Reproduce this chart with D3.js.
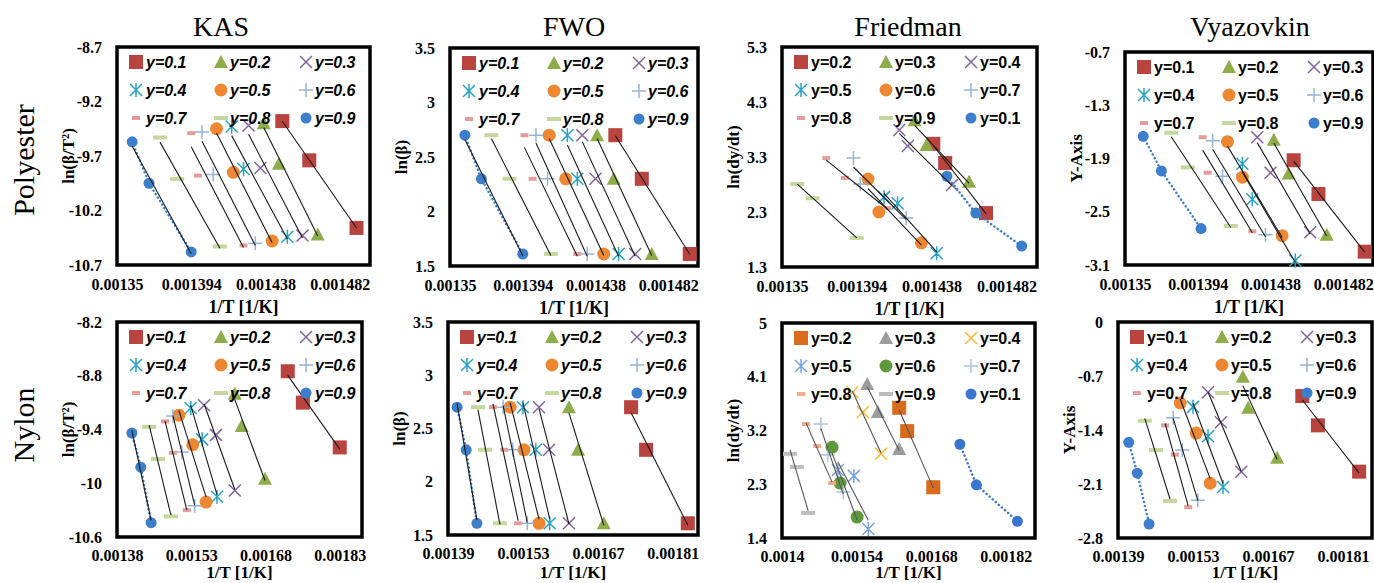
<!DOCTYPE html>
<html><head><meta charset="utf-8">
<script src="https://cdn.jsdelivr.net/npm/d3@7"></script>
<style>body{margin:0;background:#fff;} svg{display:block;}</style>
</head><body><svg id="chart" width="1374" height="583"></svg>
<script>
// ---------------- DATA ----------------
const rowTitles = ["Polyester", "Nylon"];
const colTitles = ["KAS", "FWO", "Friedman", "Vyazovkin"];
const labelsA = ["y=0.1","y=0.2","y=0.3","y=0.4","y=0.5","y=0.6","y=0.7","y=0.8","y=0.9"];
const labelsF = ["y=0.2","y=0.3","y=0.4","y=0.5","y=0.6","y=0.7","y=0.8","y=0.9","y=0.1"];
const markerTypes = ["square","triangle","xmark","asterisk","circle","plus","dashS","dashL","dot"];
const colorsA = ["#B8433F","#8EAD4A","#8064A2","#27A3C6","#EE8731","#96B3D9","#E39E9B","#C4D79C","#3C7ECB"];
const colorsFN = ["#DA6B1C","#9C9C9C","#FDB92E","#78A3DF","#5E9A3C","#ADC3E8","#F6A98A","#BDBDBD","#3A76CF"];

const xTicksPoly = [0.00135, 0.001394, 0.001438, 0.001482];
const xDomPoly = [0.00135, 0.0015];
const yTicksKasPoly = [-8.7, -9.2, -9.7, -10.2, -10.7];
const yTicksFwo = [3.5, 3, 2.5, 2, 1.5];
const yTicksFriedPoly = [5.3, 4.3, 3.3, 2.3, 1.3];
const yTicksVyaPoly = [-0.7, -1.3, -1.9, -2.5, -3.1];
const xTicksKasNyl = [0.00138, 0.00153, 0.00168, 0.00183];
const xDomKasNyl = [0.00138, 0.001875];
const xTicksFwoNyl = [0.00139, 0.00153, 0.00167, 0.00181];
const xDomFwoNyl = [0.00139, 0.001857];
const xTicksFriedNyl = [0.0014, 0.00154, 0.00168, 0.00182];
const xDomFriedNyl = [0.0014, 0.001875];
const xTicksVyaNyl = [0.00139, 0.00153, 0.00167, 0.00181];
const xDomVyaNyl = [0.00139, 0.001864];
const yTicksKasNyl = [-8.2, -8.8, -9.4, -10, -10.6];
const yTicksFriedNyl = [5, 4.1, 3.2, 2.3, 1.4];
const yTicksVyaNyl = [0, -0.7, -1.4, -2.1, -2.8];

// ln(beta) levels
const lnBeta = [2.70, 2.30, 1.61];

const kasPolyX = [
 [0.001448,0.001464,0.001492],[0.001437,0.001446,0.001469],[0.001428,0.001435,0.00146],
 [0.001418,0.001425,0.001451],[0.001409,0.001419,0.001442],[0.0014004,0.001407,0.001432],
 [0.001394,0.001398,0.001425],[0.0013755,0.0013856,0.001411],[0.001359,0.001369,0.001394]];
const kasPolyY = [
 [-9.38,-9.74,-10.36],[-9.40,-9.77,-10.42],[-9.42,-9.81,-10.43],
 [-9.43,-9.82,-10.44],[-9.45,-9.85,-10.48],[-9.48,-9.87,-10.50],
 [-9.49,-9.88,-10.52],[-9.53,-9.91,-10.53],[-9.57,-9.95,-10.58]];

const fwoPolyX = [
 [0.00145,0.001466,0.001495],[0.001439,0.001449,0.001472],[0.00143,0.001438,0.001462],
 [0.001421,0.001427,0.001452],[0.00141,0.00142,0.001443],[0.001402,0.001409,0.001433],
 [0.001395,0.0014,0.001427],[0.001375,0.001386,0.001411],[0.001359,0.001369,0.001394]];

const friedPolyX = [
 [0.001439,0.001446,0.00147],[0.001428,0.001435,0.00146],[0.001419,0.001424,0.00145],
 [0.00141,0.001418,0.001441],[0.0014006,0.001407,0.001432],[0.001392,0.001396,0.001423],
 [0.001376,0.001387,0.001412],[0.001359,0.001368,0.001394],[0.001447,0.001464,0.001491]];
const friedPolyY = [
 [3.54,3.19,2.28],[3.97,3.52,2.85],[3.79,3.50,2.79],
 [2.57,2.46,1.55],[2.90,2.30,1.74],[3.28,2.81,2.19],
 [3.28,2.92,2.37],[2.81,2.55,1.83],[2.95,2.28,1.68]];

const vyaPolyX = [
 [0.001452,0.001467,0.001495],[0.00144,0.001449,0.001472],[0.00143,0.001438,0.001462],
 [0.001421,0.001427,0.001453],[0.001412,0.001421,0.001445],[0.001403,0.001409,0.001435],
 [0.001397,0.0014,0.001427],[0.001378,0.001388,0.001414],[0.001361,0.001372,0.001396]];
const vyaPolyY = [
 [-1.92,-2.30,-2.95],[-1.69,-2.07,-2.76],[-1.66,-2.06,-2.73],
 [-1.96,-2.36,-3.05],[-1.71,-2.11,-2.77],[-1.70,-2.10,-2.76],
 [-1.66,-2.06,-2.72],[-1.61,-2.00,-2.66],[-1.65,-2.04,-2.69]];

const kasNylX = [
 [0.001725,0.0017555,0.00183],[0.001618,0.001632,0.001679],[0.001556,0.00158,0.001618],
 [0.001529,0.001552,0.001582],[0.001505,0.001533,0.00156],[0.001493,0.001511,0.001537],
 [0.001477,0.001493,0.001521],[0.001445,0.001463,0.001489],[0.00141,0.001428,0.001449]];
const kasNylY = [
 [-8.75,-9.10,-9.60],[-9.00,-9.36,-9.95],[-9.13,-9.46,-10.08],
 [-9.16,-9.51,-10.15],[-9.24,-9.57,-10.21],[-9.25,-9.65,-10.25],
 [-9.31,-9.66,-10.30],[-9.37,-9.73,-10.37],[-9.44,-9.82,-10.44]];

const fwoNylX = [
 [0.001732,0.00176,0.001838],[0.001616,0.001633,0.001681],[0.00156,0.001579,0.001616],
 [0.00153,0.001554,0.00158],[0.001506,0.001532,0.00156],[0.001493,0.001511,0.001538],
 [0.001474,0.001495,0.001521],[0.001446,0.001459,0.001487],[0.001407,0.001424,0.001444]];

const friedNylX = [
 [0.00162,0.001635,0.001684],[0.00156,0.00158,0.00162],[0.001532,0.001552,0.001586],
 [0.001505,0.001535,0.001562],[0.001494,0.001509,0.001541],[0.001473,0.001486,0.001515],
 [0.001445,0.001466,0.001494],[0.001415,0.001428,0.001449],[0.001734,0.001765,0.001842]];
const friedNylY = [
 [3.58,3.19,2.25],[3.98,3.51,2.89],[3.84,3.51,2.81],
 [2.54,2.44,1.55],[2.92,2.32,1.75],[3.31,2.79,2.17],
 [3.31,2.94,2.32],[2.81,2.59,1.82],[2.97,2.29,1.68]];

const vyaNylX = [
 [0.001734,0.001763,0.00184],[0.001623,0.001633,0.001687],[0.001558,0.001582,0.00162],
 [0.00153,0.001558,0.001586],[0.001506,0.001536,0.001562],[0.001493,0.00151,0.001539],
 [0.001478,0.001496,0.001521],[0.00144,0.001461,0.001487],[0.00141,0.001426,0.001448]];
const vyaNylY = [
 [-0.96,-1.34,-1.94],[-0.71,-1.11,-1.76],[-0.91,-1.30,-1.94],
 [-1.10,-1.48,-2.14],[-1.05,-1.44,-2.09],[-1.24,-1.66,-2.31],
 [-1.34,-1.72,-2.40],[-1.28,-1.66,-2.32],[-1.56,-1.96,-2.62]];

// ---------------- PANELS (built from the arrays above) ----------------
const fwoY = kasPolyX.map(() => lnBeta);
const panels = [
 {box:[117,47,370,265], xDom:xDomPoly, xTicks:xTicksPoly, yTicks:yTicksKasPoly, xs:kasPolyX, ys:kasPolyY, labels:labelsA, colors:colorsA, italic:true, yTitle:"ln(β/T²)", trendLast:true, row:0, lineColor:"#1a1a1a"},
 {box:[450,48,698,266], xDom:xDomPoly, xTicks:xTicksPoly, yTicks:yTicksFwo, xs:fwoPolyX, ys:fwoY, labels:labelsA, colors:colorsA, italic:true, yTitle:"ln(β)", trendLast:true, row:0, lineColor:"#1a1a1a"},
 {box:[782,47,1037,267], xDom:xDomPoly, xTicks:xTicksPoly, yTicks:yTicksFriedPoly, xs:friedPolyX, ys:friedPolyY, labels:labelsF, colors:colorsA, italic:false, yTitle:"ln(dy/dt)", trendLast:false, row:0, lineColor:"#1a1a1a"},
 {box:[1125,52,1373,265], xDom:xDomPoly, xTicks:xTicksPoly, yTicks:yTicksVyaPoly, xs:vyaPolyX, ys:vyaPolyY, labels:labelsA, colors:colorsA, italic:false, yTitle:"Y-Axis", trendLast:false, row:0, lineColor:"#1a1a1a"},
 {box:[117,322,362,537], xDom:xDomKasNyl, xTicks:xTicksKasNyl, yTicks:yTicksKasNyl, xs:kasNylX, ys:kasNylY, labels:labelsA, colors:colorsA, italic:true, yTitle:"ln(β/T²)", trendLast:true, row:1, lineColor:"#1a1a1a"},
 {box:[448,322,698,535], xDom:xDomFwoNyl, xTicks:xTicksFwoNyl, yTicks:yTicksFwo, xs:fwoNylX, ys:fwoY, labels:labelsA, colors:colorsA, italic:true, yTitle:"ln(β)", trendLast:true, row:1, lineColor:"#1a1a1a"},
 {box:[782,323,1035,538], xDom:xDomFriedNyl, xTicks:xTicksFriedNyl, yTicks:yTicksFriedNyl, xs:friedNylX, ys:friedNylY, labels:labelsF, colors:colorsFN, italic:false, yTitle:"ln(dy/dt)", trendLast:false, row:1, lineColor:"#555555"},
 {box:[1118,322,1372,538], xDom:xDomVyaNyl, xTicks:xTicksVyaNyl, yTicks:yTicksVyaNyl, xs:vyaNylX, ys:vyaNylY, labels:labelsA, colors:colorsA, italic:false, yTitle:"Y-Axis", trendLast:false, row:1, lineColor:"#1a1a1a"}
];

const SERIF = '"Liberation Serif","Times New Roman",serif';
const SANS = '"Liberation Sans",Arial,sans-serif';
const svg = d3.select('#chart');

function drawMarker(sel, type, color) {
  switch (type) {
    case 'square': sel.append('rect').attr('x',-7).attr('y',-7).attr('width',14).attr('height',14).attr('fill',color); break;
    case 'triangle': sel.append('path').attr('d','M0,-7L7,6L-7,6Z').attr('fill',color); break;
    case 'xmark': sel.append('path').attr('d','M-6,-6L6,6M6,-6L-6,6').attr('stroke',color).attr('stroke-width',1.5).attr('fill','none'); break;
    case 'asterisk': sel.append('path').attr('d','M-6,-6L6,6M6,-6L-6,6M0,-7L0,7').attr('stroke',color).attr('stroke-width',1.5).attr('fill','none'); break;
    case 'circle': sel.append('circle').attr('r',6.5).attr('fill',color); break;
    case 'plus': sel.append('path').attr('d','M-7,0L7,0M0,-7L0,7').attr('stroke',color).attr('stroke-width',1.5).attr('fill','none'); break;
    case 'dashS': sel.append('rect').attr('x',-4).attr('y',-2).attr('width',8).attr('height',4).attr('fill',color); break;
    case 'dashL': sel.append('rect').attr('x',-7).attr('y',-2).attr('width',14).attr('height',4).attr('fill',color); break;
    case 'dot': sel.append('circle').attr('r',5.5).attr('fill',color); break;
  }
}

function fit(pts) {
  const mx = d3.mean(pts, d => d.x), my = d3.mean(pts, d => d.y);
  const sxy = d3.sum(pts, d => (d.x - mx) * (d.y - my));
  const sxx = d3.sum(pts, d => (d.x - mx) * (d.x - mx));
  const b = sxy / sxx, a = my - b * mx;
  const [x0, x1] = d3.extent(pts, d => d.x);
  return [{x:x0, y:a + b * x0}, {x:x1, y:a + b * x1}];
}

// column and row titles
const colCenters = [221, 574, 908, 1250];
colTitles.forEach((t, i) => {
  svg.append('text').attr('x', colCenters[i]).attr('y', 36).attr('text-anchor','middle')
    .attr('font-family', SERIF).attr('font-size', 28).text(t);
});
const rowCenters = [160, 425];
rowTitles.forEach((t, i) => {
  svg.append('text').attr('transform', `translate(23,${rowCenters[i]}) rotate(-90)`)
    .attr('text-anchor','middle').attr('dy','0.35em')
    .attr('font-family', SERIF).attr('font-size', 30).text(t);
});

const legMX = [19, 104, 189], legTX = [29, 113, 198], legRY = [15, 43, 71];

panels.forEach(p => {
  const [L, T, R, B] = p.box;
  const x = d3.scaleLinear().domain(p.xDom).range([L, R]);
  const y = d3.scaleLinear().domain([p.yTicks[p.yTicks.length - 1], p.yTicks[0]]).range([B, T]);
  const g = svg.append('g');

  // axes
  const ax = g.append('g').attr('transform', `translate(0,${B})`)
    .call(d3.axisBottom(x).tickValues(p.xTicks).tickFormat(d => String(d)).tickSize(0).tickPadding(p.row === 0 ? 14 : 13));
  ax.select('.domain').remove();
  ax.selectAll('text').attr('font-family', SERIF).attr('font-weight','bold').attr('font-size', 16).attr('fill','#000');
  const ay = g.append('g').attr('transform', `translate(${L},0)`)
    .call(d3.axisLeft(y).tickValues(p.yTicks).tickFormat(d => String(d)).tickSize(0).tickPadding(15));
  ay.select('.domain').remove();
  ay.selectAll('text').attr('font-family', SERIF).attr('font-weight','bold').attr('font-size', 16).attr('fill','#000');

  // axis titles
  g.append('text').attr('x', (L + R) / 2).attr('y', p.row === 0 ? B + 48 : 578).attr('text-anchor','middle')
    .attr('font-family', SERIF).attr('font-weight','bold').attr('font-size', p.row === 0 ? 18 : 17).text('1/T [1/K]');
  g.append('text').attr('transform', `translate(${L - 49},${(T + B) / 2}) rotate(-90)`)
    .attr('text-anchor','middle').attr('dy','0.35em')
    .attr('font-family', SERIF).attr('font-weight','bold').attr('font-size', 17).text(p.yTitle);

  // plot border
  g.append('rect').attr('x', L).attr('y', T).attr('width', R - L).attr('height', B - T)
    .attr('fill','none').attr('stroke','#000').attr('stroke-width', 3.5);

  const series = p.xs.map((xs, i) => xs.map((xv, j) => ({x: xv, y: p.ys[i][j]})));

  // markers
  series.forEach((pts, i) => {
    g.append('g').selectAll('g').data(pts).join('g')
      .attr('transform', d => `translate(${x(d.x)},${y(d.y)})`)
      .each(function () { drawMarker(d3.select(this), markerTypes[i], p.colors[i]); });
  });

  // dotted connecting line for the last (blue circle) series
  const line = d3.line().x(d => x(d.x)).y(d => y(d.y));
  const last = series[8];
  g.append('path').datum(last).attr('d', line).attr('fill','none')
    .attr('stroke', p.colors[8]).attr('stroke-width', 2.5)
    .attr('stroke-dasharray','0.1,4').attr('stroke-linecap','round');

  // linear trendlines
  series.forEach((pts, i) => {
    if (i === 8 && !p.trendLast) return;
    g.append('path').datum(fit(pts)).attr('d', line).attr('fill','none')
      .attr('stroke', p.lineColor).attr('stroke-width', 1.1);
  });

  // legend
  p.labels.forEach((lab, i) => {
    const r = Math.floor(i / 3), c = i % 3;
    const mg = g.append('g').attr('transform', `translate(${L + legMX[c]},${T + legRY[r]})`);
    drawMarker(mg, markerTypes[i], p.colors[i]);
    g.append('text').attr('x', L + legTX[c]).attr('y', T + legRY[r]).attr('dy','0.36em')
      .attr('font-family', SANS).attr('font-weight','bold').attr('font-style', p.italic ? 'italic' : 'normal')
      .attr('font-size', 16).attr('fill','#000').text(lab);
  });
});
</script></body></html>
